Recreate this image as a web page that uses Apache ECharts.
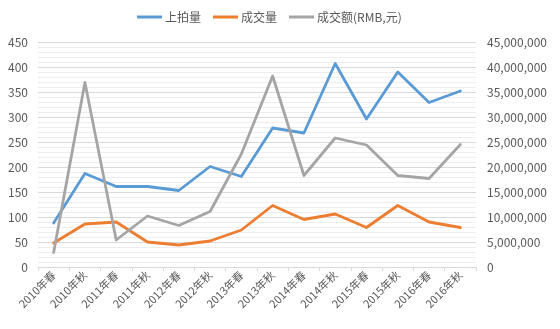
<!DOCTYPE html>
<html>
<head>
<meta charset="utf-8">
<script src="https://cdn.jsdelivr.net/npm/echarts@6/dist/echarts.min.js"></script>
<style>
  html, body { margin: 0; padding: 0; background: #fff; }
  #chart { width: 560px; height: 329px; }
</style>
</head>
<body>
<div id="chart"></div>
<script>
// Auction seasons, spring/autumn 2010-2016
const categories = ['2010年春','2010年秋','2011年春','2011年秋','2012年春','2012年秋','2013年春',
  '2013年秋','2014年春','2014年秋','2015年春','2015年秋','2016年春','2016年秋'];
// Lots offered
const offered = [88, 187, 161, 161, 153, 201, 181, 278, 268, 407, 296, 390, 329, 352];
// Lots sold
const sold = [48, 86, 90, 50, 44, 52, 74, 123, 95, 106, 79, 123, 90, 79];
// Turnover in RMB
const turnover = [2900000, 36900000, 5400000, 10200000, 8300000, 11100000, 22600000,
  38200000, 18300000, 25800000, 24400000, 18300000, 17700000, 24500000];

const seriesNames = ['上拍量', '成交量', '成交额(RMB,元)'];
const colors = ['#5B9BD5', '#ED7D31', '#A5A5A5'];
const font = '"Noto Sans CJK SC", "Noto Sans", sans-serif';
const textColor = '#595959';

const chart = echarts.init(document.getElementById('chart'), null, { renderer: 'canvas' });

function lineSeries(name, data, color, yAxisIndex) {
  return {
    name: name,
    type: 'line',
    data: data,
    yAxisIndex: yAxisIndex,
    symbol: 'none',
    smooth: false,
    lineStyle: { color: color, width: 2.8, join: 'round', cap: 'round' },
    itemStyle: { color: color },
    animation: false
  };
}

chart.setOption({
  animation: false,
  color: colors,
  textStyle: { fontFamily: font },
  legend: {
    top: 6,
    left: 132,
    icon: 'rect',
    itemWidth: 25,
    itemHeight: 3,
    itemGap: 12,
    textStyle: { color: textColor, fontSize: 12, fontFamily: font, padding: [0, 0, 0, -2] },
    data: seriesNames
  },
  grid: { left: 38, right: 84, top: 42, bottom: 62, containLabel: false },
  xAxis: {
    type: 'category',
    data: categories,
    boundaryGap: true,
    axisLine: { lineStyle: { color: '#D9D9D9' } },
    axisTick: { show: true, length: 4, lineStyle: { color: '#D9D9D9' } },
    axisLabel: { rotate: 45, color: textColor, fontSize: 11, fontFamily: font, margin: 6, interval: 0 },
    splitLine: { show: false }
  },
  yAxis: [
    {
      type: 'value',
      min: 0, max: 450, interval: 50,
      axisLine: { show: false },
      axisTick: { show: false },
      axisLabel: { color: textColor, fontSize: 12, fontFamily: font, margin: 10 },
      splitLine: { show: true, lineStyle: { color: '#D9D9D9', width: 1 } },
      minorTick: { show: false, splitNumber: 5 },
      minorSplitLine: { show: true, lineStyle: { color: '#EDEDED', width: 1 } }
    },
    {
      type: 'value',
      min: 0, max: 45000000, interval: 5000000,
      position: 'right',
      axisLine: { show: false },
      axisTick: { show: false },
      axisLabel: {
        color: textColor, fontSize: 12, fontFamily: font, margin: 11,
        formatter: v => v.toLocaleString('en-US')
      },
      splitLine: { show: false }
    }
  ],
  series: [
    lineSeries(seriesNames[0], offered, colors[0], 0),
    lineSeries(seriesNames[1], sold, colors[1], 0),
    lineSeries(seriesNames[2], turnover, colors[2], 1)
  ]
});
</script>
</body>
</html>
